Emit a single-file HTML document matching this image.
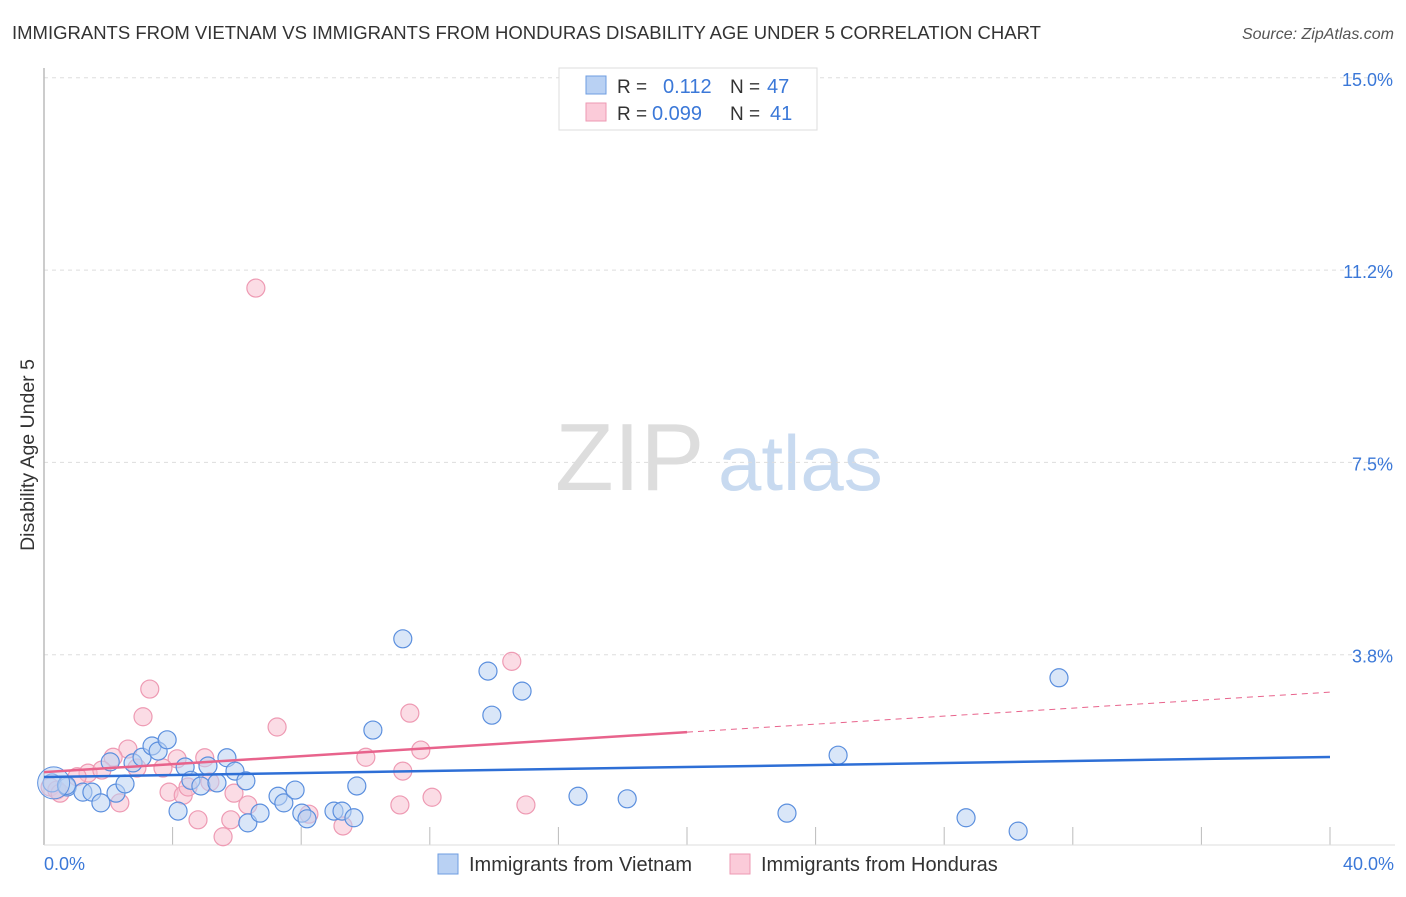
<!DOCTYPE html>
<html><head><meta charset="utf-8"><style>
body{margin:0;background:#fff;font-family:"Liberation Sans",sans-serif;}
svg text{font-family:"Liberation Sans",sans-serif;}
</style></head><body>
<svg id="chart" width="1406" height="892" viewBox="0 0 1406 892">
<text x="12" y="39" font-size="18.5" fill="#333">IMMIGRANTS FROM VIETNAM VS IMMIGRANTS FROM HONDURAS DISABILITY AGE UNDER 5 CORRELATION CHART</text>
<text x="1394" y="39" font-size="16" fill="#555" text-anchor="end" font-style="italic">Source: ZipAtlas.com</text>
<g>
<text x="555" y="490" font-size="96" fill="#ddd" font-family="Liberation Serif">ZIP</text>
<text x="718" y="490" font-size="78" fill="#c8daf0">atlas</text>
</g>
<g id="grid"></g>
<g id="xticks"></g>
<line x1="44" y1="68" x2="44" y2="845" stroke="#bbb" stroke-width="1.5"/>
<line x1="44" y1="845" x2="1395" y2="845" stroke="#ddd" stroke-width="1"/>
<g id="ylabels"></g>
<text transform="translate(34,455) rotate(-90)" font-size="19.5" fill="#333" text-anchor="middle">Disability Age Under 5</text>
<text x="44" y="870" font-size="18" fill="#3b78d8">0.0%</text>
<text x="1394" y="870" font-size="18" fill="#3b78d8" text-anchor="end">40.0%</text>
<g id="points"></g>
<g id="lines"></g>
<g>
<rect x="559" y="68" width="258" height="62" fill="#fff" stroke="#ddd"/>
<rect x="586" y="76" width="20" height="18" fill="#b9d1f3" stroke="#6e9de0"/>
<rect x="586" y="103" width="20" height="18" fill="#fbcbd9" stroke="#ee9ab3"/>
<text x="617" y="93" font-size="19" fill="#333">R = </text><text x="663" y="93" font-size="20" fill="#3b78d8">0.112</text>
<text x="730" y="93" font-size="19" fill="#333">N = </text><text x="767" y="93" font-size="20" fill="#3b78d8">47</text>
<text x="617" y="120" font-size="19" fill="#333">R = </text><text x="652" y="120" font-size="20" fill="#3b78d8">0.099</text>
<text x="730" y="120" font-size="19" fill="#333">N = </text><text x="770" y="120" font-size="20" fill="#3b78d8">41</text>
</g>
<g>
<rect x="438" y="854" width="20" height="20" fill="#b9d1f3" stroke="#6e9de0"/>
<text x="469" y="871" font-size="20" fill="#333">Immigrants from Vietnam</text>
<rect x="730" y="854" width="20" height="20" fill="#fbcbd9" stroke="#ee9ab3"/>
<text x="761" y="871" font-size="20" fill="#333">Immigrants from Honduras</text>
</g>
</svg>
<script>
const yTicks=[3.75,7.5,11.25,15];
const yTickLabels=["3.8%","7.5%","11.2%","15.0%"];
const xTicks=[0,4,8,12,16,20,24,28,32,36,40];
const vietX=[0.25,0.72,1.21,1.49,1.77,2.24,2.52,2.06,2.77,3.05,3.36,3.55,3.83,4.39,4.57,4.88,5.10,5.38,5.69,5.94,6.28,4.17,6.34,6.72,7.28,7.46,7.81,8.02,8.18,9.02,9.27,9.64,9.73,10.23,11.16,13.81,14.87,13.93,16.61,18.14,23.11,24.70,28.68,30.30,31.57,0.7];
const vietY=[1.25,1.17,1.07,1.07,0.86,1.05,1.23,1.66,1.64,1.75,1.97,1.87,2.09,1.56,1.30,1.19,1.58,1.25,1.74,1.48,1.29,0.70,0.47,0.66,0.99,0.86,1.11,0.66,0.55,0.70,0.70,0.57,1.19,2.28,4.06,3.43,3.04,2.57,0.99,0.94,0.66,1.79,0.57,0.31,3.30,1.20];
const hondX=[3.29,3.08,7.25,11.38,10.01,11.72,11.16,11.07,12.07,2.61,2.15,4.14,5.00,3.70,2.89,3.89,4.33,4.48,5.16,5.91,6.34,4.79,5.81,5.57,8.24,9.30,2.36,1.37,1.03,0.19,0.40,1.80,6.59,14.55,14.99,0.5];
const hondY=[3.08,2.54,2.34,2.61,1.75,1.89,1.48,0.82,0.97,1.91,1.75,1.72,1.74,1.54,1.54,1.07,1.01,1.17,1.27,1.05,0.82,0.53,0.53,0.20,0.64,0.41,0.86,1.44,1.37,1.17,1.11,1.50,10.9,3.62,0.82,1.05];
const vietTrend=[1.365,1.755];
const hondTrend=[1.46,3.02];
const NS="http://www.w3.org/2000/svg";
const X=v=>44+v/40*1286;
const Y=v=>847-v/3.75*192.3;
function mk(tag,attrs,parent){const e=document.createElementNS(NS,tag);for(const k in attrs)e.setAttribute(k,attrs[k]);document.getElementById(parent).appendChild(e);return e;}
yTicks.forEach((t,i)=>{
 const l=mk('line',{x1:44,x2:1395,y1:Y(t),y2:Y(t),stroke:'#ddd','stroke-dasharray':'4,4'},'grid');
 
 
 const tx=mk('text',{x:1393,y:Y(t)+8,'font-size':18,fill:'#3b78d8','text-anchor':'end'},'ylabels');
 tx.textContent=yTickLabels[i];
 
 
});
xTicks.slice(1).forEach(t=>{
 const l=mk('line',{x1:X(t),x2:X(t),y1:827,y2:845,stroke:'#bbb'},'xticks');
 
 
});
function pts(xs,ys,fill,stroke,name){xs.forEach((x,i)=>{
 const c=mk('circle',{cx:X(x),cy:Y(ys[i]),r:9,fill:fill,'fill-opacity':0.55,stroke:stroke,'stroke-width':1.2},'points');
 
 
});}
pts(hondX,hondY,'#f8bfd0','#ee9ab3','honduras-point');
pts(vietX,vietY,'#b9d1f3','#5b8fde','vietnam-point');
const big=mk('circle',{cx:X(0.3),cy:Y(1.25),r:16,fill:'#b9d1f3','fill-opacity':0.5,stroke:'#5b8fde'},'points');


const vl=mk('line',{x1:X(0),y1:Y(vietTrend[0]),x2:X(40),y2:Y(vietTrend[1]),stroke:'#2e6fd6','stroke-width':2.5},'lines');


const hm=hondTrend[0]+(hondTrend[1]-hondTrend[0])*0.5;
const hl=mk('line',{x1:X(0),y1:Y(hondTrend[0]),x2:X(20),y2:Y(hm),stroke:'#e8638c','stroke-width':2.5},'lines');


const hd=mk('line',{x1:X(20),y1:Y(hm),x2:X(40),y2:Y(hondTrend[1]),stroke:'#e8638c','stroke-width':1,'stroke-dasharray':'6,5'},'lines');


</script>
</body></html>
